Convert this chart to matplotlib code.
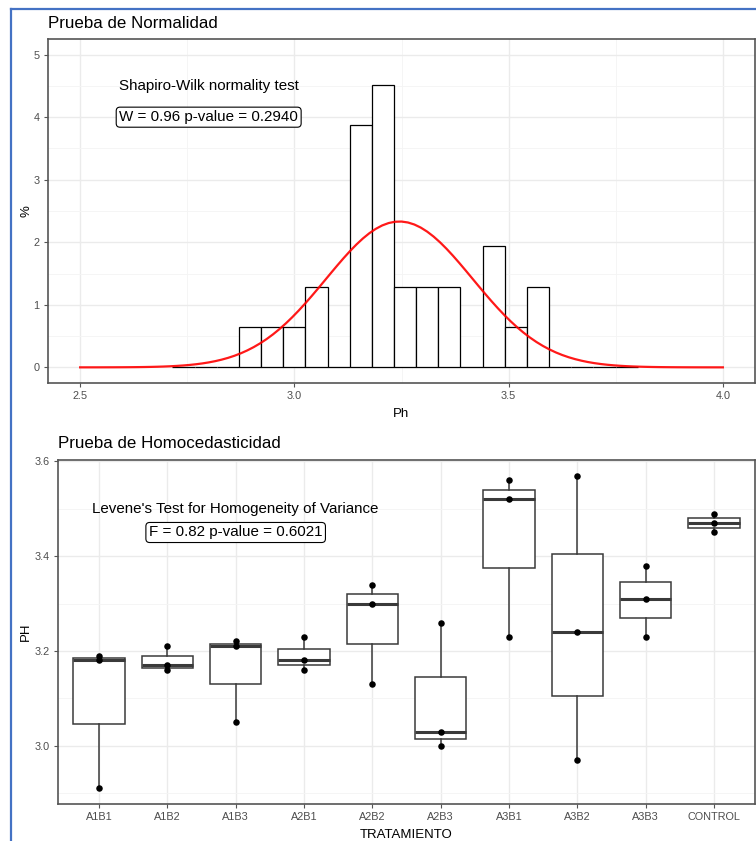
import numpy as np
import matplotlib
matplotlib.use("Agg")
import matplotlib.pyplot as plt
from matplotlib.lines import Line2D

plt.rcParams['font.family'] = ['Liberation Sans', 'DejaVu Sans']

# ---------------- data ----------------
treatments = ['A1B1', 'A1B2', 'A1B3', 'A2B1', 'A2B2', 'A2B3',
              'A3B1', 'A3B2', 'A3B3', 'CONTROL']
ph_A1B1 = [2.91, 3.18, 3.19]
ph_A1B2 = [3.16, 3.17, 3.21]
ph_A1B3 = [3.05, 3.21, 3.22]
ph_A2B1 = [3.16, 3.18, 3.23]
ph_A2B2 = [3.13, 3.30, 3.34]
ph_A2B3 = [3.00, 3.03, 3.26]
ph_A3B1 = [3.23, 3.52, 3.56]
ph_A3B2 = [2.97, 3.24, 3.57]
ph_A3B3 = [3.23, 3.31, 3.38]
ph_CONTROL = [3.45, 3.47, 3.49]
ph_groups = [ph_A1B1, ph_A1B2, ph_A1B3, ph_A2B1, ph_A2B2, ph_A2B3,
             ph_A3B1, ph_A3B2, ph_A3B3, ph_CONTROL]
ph_all = np.concatenate(ph_groups)

shapiro_title = "Shapiro-Wilk normality test"
shapiro_label = "W = 0.96 p-value = 0.2940"
levene_title = "Levene's Test for Homogeneity of Variance"
levene_label = "F = 0.82 p-value = 0.6021"

top_xticks = [2.5, 3.0, 3.5, 4.0]
top_xticklabels = ['2.5', '3.0', '3.5', '4.0']
top_yticks = [0, 1, 2, 3, 4, 5]
bot_yticks = [3.0, 3.2, 3.4, 3.6]
bot_yticklabels = ['3.0', '3.2', '3.4', '3.6']

# histogram binning
bin_width = 0.0517
first_edge = 3.0257 - 6 * bin_width   # 3 empty bins to the left of first bar
n_bins = 21
bin_edges = first_edge + bin_width * np.arange(n_bins + 1)

# ---------------- figure ----------------
W, H = 756, 841
fig = plt.figure(figsize=(W / 100, H / 100), dpi=100)

def ax_rect(l, t, r, b):
    return [l / W, 1 - b / H, (r - l) / W, (b - t) / H]

tick_color = '#4D4D4D'
spine_color = '#555555'
box_color = '#3A3A3A'
grid_major = '#EBEBEB'
grid_minor = '#F4F4F4'

def style_axes(ax):
    for s in ax.spines.values():
        s.set_color(spine_color)
        s.set_linewidth(1.2)
    ax.tick_params(axis='both', which='major', length=3, width=0.8,
                   color=spine_color, labelcolor=tick_color, labelsize=7.8, pad=3)
    ax.tick_params(axis='both', which='minor', length=0)
    ax.set_axisbelow(True)
    ax.grid(True, which='major', color=grid_major, lw=1.0)
    ax.grid(True, which='minor', color=grid_minor, lw=0.6)

# ---- top panel: histogram ----
ax1 = fig.add_axes(ax_rect(48, 39, 755, 383))
style_axes(ax1)
ax1.hist(ph_all, bins=bin_edges, density=True, facecolor='white',
         edgecolor='black', linewidth=0.9, zorder=2)
mu = ph_all.mean()
sd = ph_all.std(ddof=1)
xs = np.linspace(2.5, 4.0, 101)
ax1.plot(xs, np.exp(-0.5 * ((xs - mu) / sd) ** 2) / (sd * np.sqrt(2 * np.pi)),
         color='red', lw=1.6, alpha=0.9, zorder=3)
ax1.set_xlim(2.425, 4.075)
ax1.set_ylim(-0.25, 5.25)
ax1.set_xticks(top_xticks)
ax1.set_xticklabels(top_xticklabels)
ax1.set_xticks([2.75, 3.25, 3.75], minor=True)
ax1.set_yticks(top_yticks)
ax1.set_yticks([0.5, 1.5, 2.5, 3.5, 4.5], minor=True)
ax1.set_xlabel('Ph', fontsize=9.5, color='black', labelpad=5)
ax1.set_ylabel('%', fontsize=9.5, color='black', labelpad=0.5)
ax1.text(2.8, 4.5, shapiro_title, ha='center', va='center', fontsize=10.9, zorder=5)
ax1.text(2.8, 4.0, shapiro_label, ha='center', va='center', fontsize=10.9, zorder=5,
         bbox=dict(boxstyle='round,pad=0.2,rounding_size=0.25', fc='white',
                   ec='black', lw=0.8))

# ---- bottom panel: boxplot ----
ax2 = fig.add_axes(ax_rect(58, 460, 755, 804))
style_axes(ax2)
positions = np.arange(1, len(treatments) + 1)
ax2.boxplot(ph_groups, positions=positions, widths=0.75, whis=1.5,
            patch_artist=True, showfliers=False, showcaps=False,
            boxprops=dict(facecolor='white', edgecolor=box_color, lw=1.1),
            whiskerprops=dict(color=box_color, lw=1.1),
            medianprops=dict(color=box_color, lw=2.2), zorder=2)
for p, vals in zip(positions, ph_groups):
    ax2.scatter(np.full(len(vals), p), vals, s=22, color='black', zorder=4,
                linewidths=0)
ax2.set_xlim(0.4, len(treatments) + 0.6)
ax2.set_ylim(2.877, 3.603)
ax2.set_xticks(positions)
ax2.set_xticklabels(treatments)
ax2.set_yticks(bot_yticks)
ax2.set_yticklabels(bot_yticklabels)
ax2.set_yticks([2.9, 3.1, 3.3, 3.5], minor=True)
ax2.set_xlabel('TRATAMIENTO', fontsize=9.5, color='black', labelpad=4.5)
ax2.set_ylabel('PH', fontsize=9.5, color='black', labelpad=2)
ax2.text(3.0, 3.5, levene_title, ha='center', va='center', fontsize=10.9, zorder=5)
ax2.text(3.0, 3.45, levene_label, ha='center', va='center', fontsize=10.9, zorder=5,
         bbox=dict(boxstyle='round,pad=0.2,rounding_size=0.25', fc='white',
                   ec='black', lw=0.8))

# titles
fig.text(48 / W, 1 - 23 / H, 'Prueba de Normalidad', ha='left', va='center',
         fontsize=12.2)
fig.text(58 / W, 1 - 444 / H, 'Prueba de Homocedasticidad', ha='left', va='center',
         fontsize=12.2)

# blue screenshot frame
frame_col = '#4472C4'
fig.add_artist(Line2D([11 / W, 11 / W], [0, 1 - 8.5 / H], color=frame_col, lw=1.6,
                      transform=fig.transFigure))
fig.add_artist(Line2D([11 / W, 1], [1 - 9 / H, 1 - 9 / H], color=frame_col, lw=1.6,
                      transform=fig.transFigure))

fig.savefig('out.png', dpi=100)
